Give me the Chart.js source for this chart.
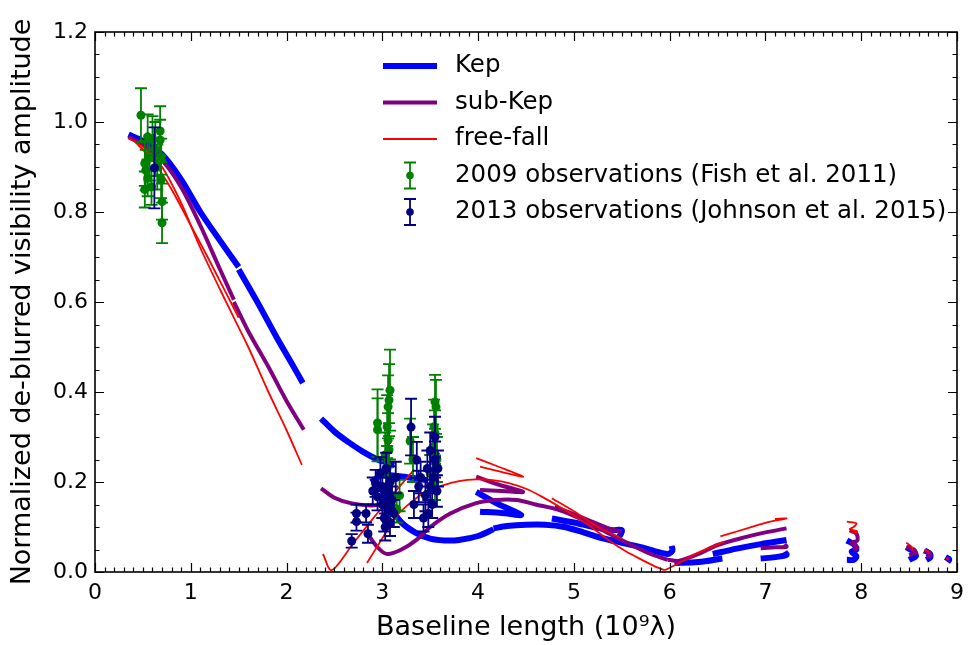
<!DOCTYPE html>
<html>
<head>
<meta charset="utf-8">
<script src="https://cdn.jsdelivr.net/npm/chart.js@4.4.1/dist/chart.umd.min.js"></script>
<style>
  html, body { margin: 0; padding: 0; background: #fff; }
  #wrap { width: 972px; height: 645px; }
</style>
</head>
<body>
<div id="wrap"><canvas id="grafico" width="972" height="645"></canvas></div>
<script>
// Eixos
const xTicks = [0, 1, 2, 3, 4, 5, 6, 7, 8, 9];
const yTicks = ['0.0', '0.2', '0.4', '0.6', '0.8', '1.0', '1.2'];

// Modelo Kepleriano (azul) - segmentos
const kepA = [[0.35,0.972],[0.5,0.958],[0.7,0.928],[0.9,0.872],[1.1,0.8],[1.3,0.738],[1.5,0.678]];
const kepB = [[1.5,0.672],[1.7,0.598],[1.9,0.52],[2.05,0.465],[2.17,0.42]];
const kepC = [[2.36,0.341],[2.5,0.312],[2.65,0.288],[2.8,0.267],[2.95,0.25],[3.05,0.243],[3.12,0.236]];
const kepD = [[2.88,0.2],[3.0,0.215],[3.2,0.212],[3.47,0.204]];
const kepE = [[3.0,0.18],[3.1,0.14],[3.2,0.11],[3.35,0.087],[3.5,0.074],[3.65,0.07],[3.8,0.071],[4.0,0.08],[4.16,0.095]];
const kepF = [[4.16,0.097],[4.3,0.102],[4.5,0.105],[4.7,0.105],[4.9,0.1],[5.1,0.088],[5.3,0.075],[5.5,0.065],[5.7,0.055],[5.85,0.046],[5.98,0.04],[6.03,0.048],[6.02,0.058]];
const kepH = [[3.98,0.178],[4.2,0.152],[4.45,0.127],[4.25,0.131],[4.02,0.134]];
const kepI = [[4.77,0.119],[5.0,0.11],[5.2,0.1],[5.4,0.093],[5.5,0.093],[5.47,0.078],[5.38,0.068]];
const kepJ = [[6.05,0.02],[6.3,0.022],[6.55,0.03]];
const kepK = [[6.45,0.04],[6.7,0.052],[6.95,0.062],[7.22,0.071]];
const kepL = [[6.95,0.03],[7.1,0.033],[7.22,0.038],[7.2,0.045]];
const kepM = [[7.85,0.07],[7.92,0.062],[7.95,0.05],[7.9,0.045],[7.95,0.035],[7.92,0.027],[7.85,0.027]];
const kepN = [[8.47,0.055],[8.55,0.045],[8.57,0.035],[8.5,0.027]];
const kepO = [[8.66,0.048],[8.72,0.04],[8.72,0.032],[8.68,0.027]];
const kepP = [[8.88,0.033],[8.92,0.028],[8.9,0.022]];

// Modelo sub-Kepleriano (roxo)
const subA = [[0.35,0.966],[0.5,0.95],[0.7,0.915],[0.9,0.855],[1.1,0.77],[1.3,0.675],[1.45,0.605]];
const subB = [[1.45,0.6],[1.6,0.535],[1.81,0.456],[2.0,0.38],[2.18,0.316]];
const subC = [[2.36,0.186],[2.5,0.165],[2.67,0.153],[2.88,0.148],[3.0,0.15]];
const subD = [[2.83,0.09],[2.95,0.055],[3.05,0.04],[3.2,0.05],[3.36,0.072],[3.5,0.1],[3.71,0.13],[3.98,0.153],[4.19,0.16],[4.4,0.16],[4.6,0.15],[4.84,0.138],[5.1,0.115],[5.36,0.086],[5.6,0.06],[5.8,0.04],[5.98,0.027]];
const subE = [[5.98,0.027],[6.1,0.025],[6.3,0.04],[6.5,0.06],[6.8,0.078],[7.0,0.088],[7.22,0.097]];
const subF = [[6.95,0.053],[7.1,0.055],[7.22,0.056],[7.2,0.062]];
const subG = [[3.98,0.212],[4.2,0.195],[4.47,0.178],[4.25,0.18],[4.02,0.182]];
const subH = [[4.8,0.145],[5.1,0.12],[5.4,0.094],[5.5,0.09]];
const subI = [[7.88,0.093],[7.95,0.085],[7.96,0.07],[7.9,0.065],[7.96,0.055],[7.92,0.049]];
const subJ = [[8.47,0.056],[8.55,0.05],[8.57,0.042],[8.5,0.038]];
const subK = [[8.66,0.047],[8.72,0.042],[8.72,0.036],[8.68,0.033]];
const subL = [[8.89,0.031],[8.92,0.028]];

// Modelo queda livre (vermelho)
const ffA = [[0.35,0.965],[0.5,0.945],[0.7,0.9],[0.9,0.82],[1.1,0.72],[1.36,0.604],[1.6,0.5],[1.8,0.405],[2.0,0.315],[2.16,0.238]];
const ffB = [[0.4,0.96],[0.6,0.915],[0.8,0.85],[1.0,0.77],[1.2,0.69],[1.5,0.565]];
const ffC = [[2.38,0.04],[2.47,0.004],[2.7,0.065],[2.9,0.118],[3.1,0.17],[3.33,0.227]];
const ffD = [[2.84,0.02],[3.0,0.075],[3.15,0.125],[3.29,0.153],[3.45,0.178],[3.64,0.193],[3.8,0.202],[3.98,0.206],[4.15,0.204],[4.33,0.197],[4.5,0.185],[4.67,0.167],[4.85,0.145],[5.02,0.123],[5.2,0.097],[5.36,0.071],[5.55,0.045],[5.71,0.027],[5.85,0.012],[5.95,0.004]];
const ffE = [[3.98,0.253],[4.2,0.235],[4.47,0.212],[4.25,0.222],[4.02,0.234]];
const ffF = [[4.77,0.164],[5.0,0.135],[5.25,0.1],[5.5,0.075]];
const ffG = [[5.95,0.004],[6.1,0.02],[6.3,0.043],[6.57,0.067]];
const ffH = [[6.53,0.079],[6.7,0.09],[6.9,0.103],[7.05,0.112],[7.22,0.119],[7.1,0.118]];
const ffI = [[7.85,0.112],[7.95,0.108],[7.92,0.1],[7.88,0.095],[7.96,0.09],[7.9,0.086]];
const ffJ = [[8.47,0.065],[8.53,0.055],[8.53,0.047]];
const ffK = [[8.66,0.05],[8.7,0.045],[8.7,0.04]];
const ffL = [[8.89,0.032],[8.91,0.027]];

// Observações 2009 (Fish et al. 2011)
const obs2009X = [0.48,0.55,0.60,0.68,0.68,0.69,0.52,0.53,0.55,0.52,0.59,0.69,0.70,0.70,0.57,0.63,0.65,
  2.95,2.95,3.08,3.07,3.06,3.05,3.06,3.07,3.05,3.08,3.1,3.03,3.29,3.32,3.55,3.56,3.54,3.55,3.53,3.57,3.5,3.55,3.15,3.18];
const obs2009Y = [1.015,0.967,0.963,0.98,0.96,0.923,0.908,0.893,0.875,0.85,0.856,0.871,0.823,0.776,0.92,0.94,0.9,
  0.331,0.316,0.404,0.382,0.367,0.323,0.293,0.271,0.23,0.2,0.17,0.26,0.291,0.25,0.378,0.367,0.323,0.309,0.278,0.25,0.22,0.2,0.14,0.17];
const obs2009Err = [0.06,0.05,0.05,0.055,0.045,0.04,0.05,0.045,0.04,0.04,0.04,0.04,0.04,0.045,0.05,0.06,0.05,
  0.075,0.07,0.09,0.08,0.07,0.07,0.06,0.06,0.05,0.05,0.04,0.05,0.05,0.05,0.06,0.06,0.06,0.05,0.05,0.05,0.04,0.04,0.03,0.035];

// Observações 2013 (Johnson et al. 2015)
const obs2013X = [0.62,2.68,2.73,2.73,2.83,2.85,2.9,2.93,2.95,2.98,3.0,3.0,3.02,3.03,3.04,3.05,3.06,3.08,3.08,3.1,3.12,3.14,
  3.3,3.33,3.36,3.38,3.4,3.43,3.45,3.47,3.48,3.5,3.5,3.52,3.53,3.55,3.55,3.57,3.58];
const obs2013Y = [0.898,0.069,0.13,0.112,0.13,0.085,0.18,0.197,0.167,0.22,0.15,0.19,0.12,0.1,0.23,0.18,0.14,0.2,0.11,0.16,0.13,0.21,
  0.322,0.15,0.249,0.19,0.21,0.12,0.17,0.23,0.13,0.27,0.19,0.15,0.21,0.3,0.25,0.18,0.23];
const obs2013Err = [0.09,0.015,0.02,0.02,0.02,0.02,0.03,0.03,0.03,0.035,0.03,0.03,0.03,0.03,0.035,0.03,0.03,0.035,0.03,0.03,0.03,0.035,
  0.063,0.03,0.04,0.035,0.035,0.03,0.035,0.04,0.03,0.04,0.035,0.03,0.035,0.045,0.04,0.035,0.04];

const FONTE = "'DejaVu Sans', sans-serif";
const AZUL = '#0000ff', ROXO = '#800080', VERMELHO = '#ff0000', VERDE = '#008000', MARINHO = '#000080';

function segmento(pontos, cor, espessura) {
  return {
    data: pontos.map(p => ({ x: p[0], y: p[1] })),
    showLine: true,
    borderColor: cor,
    borderWidth: espessura,
    borderCapStyle: 'butt',
    pointRadius: 0,
    pointHoverRadius: 0,
    tension: 0.3,
    fill: false
  };
}

function observacoes(xs, ys, erros, cor) {
  return {
    data: xs.map((x, i) => ({ x: x, y: ys[i] })),
    showLine: false,
    pointRadius: 4.5,
    pointBackgroundColor: cor,
    pointBorderColor: cor,
    pointBorderWidth: 0,
    erros: erros,
    corErro: cor
  };
}

// Chart.js desenha o primeiro dataset por cima
const datasets = [];
datasets.push(observacoes(obs2013X, obs2013Y, obs2013Err, MARINHO));
datasets.push(observacoes(obs2009X, obs2009Y, obs2009Err, VERDE));
[ffA, ffB, ffC, ffD, ffE, ffF, ffG, ffH, ffI, ffJ, ffK, ffL].forEach(s => datasets.push(segmento(s, VERMELHO, 1.8)));
[subA, subB, subC, subD, subE, subF, subG, subH, subI, subJ, subK, subL].forEach(s => datasets.push(segmento(s, ROXO, 4)));
[kepA, kepB, kepC, kepD, kepE, kepF, kepH, kepI, kepJ, kepK, kepL, kepM, kepN, kepO, kepP].forEach(s => datasets.push(segmento(s, AZUL, 6)));

// Barras de erro, desenhadas logo após cada conjunto de pontos
const barrasDeErro = {
  id: 'barrasDeErro',
  afterDatasetDraw(chart, args) {
    const ds = chart.data.datasets[args.index];
    if (!ds.erros) return;
    const ctx = chart.ctx;
    const xs = chart.scales.x, ys = chart.scales.y;
    ctx.save();
    ctx.strokeStyle = ds.corErro;
    ctx.lineWidth = 1.8;
    ds.data.forEach((p, i) => {
      const px = xs.getPixelForValue(p.x);
      const y1 = ys.getPixelForValue(p.y + ds.erros[i]);
      const y2 = ys.getPixelForValue(p.y - ds.erros[i]);
      ctx.beginPath();
      ctx.moveTo(px, y1); ctx.lineTo(px, y2);
      ctx.moveTo(px - 6, y1); ctx.lineTo(px + 6, y1);
      ctx.moveTo(px - 6, y2); ctx.lineTo(px + 6, y2);
      ctx.stroke();
    });
    ctx.restore();
  }
};

// Moldura com marcas para dentro, estilo matplotlib
const moldura = {
  id: 'moldura',
  afterDraw(chart) {
    const ctx = chart.ctx;
    const { left, right, top, bottom } = chart.chartArea;
    const xs = chart.scales.x, ys = chart.scales.y;
    ctx.save();
    ctx.strokeStyle = '#000';
    ctx.lineWidth = 1.2;
    ctx.beginPath();
    for (let v = 0; v <= 90; v++) {
      const px = Math.round(xs.getPixelForValue(v / 10)) + 0.5;
      const len = v % 10 === 0 ? 9 : 4.5;
      ctx.moveTo(px, bottom); ctx.lineTo(px, bottom - len);
      ctx.moveTo(px, top); ctx.lineTo(px, top + len);
    }
    for (let v = 0; v <= 24; v++) {
      const py = Math.round(ys.getPixelForValue(v * 0.05)) + 0.5;
      const len = v % 4 === 0 ? 9 : 4.5;
      ctx.moveTo(left, py); ctx.lineTo(left + len, py);
      ctx.moveTo(right, py); ctx.lineTo(right - len, py);
    }
    ctx.stroke();
    ctx.lineWidth = 1.6;
    ctx.strokeRect(left, top, right - left, bottom - top);
    ctx.restore();
  }
};

// Legenda desenhada dentro do gráfico
const legendaItens = [
  { texto: 'Kep', tipo: 'linha', cor: AZUL, espessura: 6 },
  { texto: 'sub-Kep', tipo: 'linha', cor: ROXO, espessura: 4 },
  { texto: 'free-fall', tipo: 'linha', cor: VERMELHO, espessura: 1.8 },
  { texto: '2009 observations (Fish et al. 2011)', tipo: 'erro', cor: VERDE },
  { texto: '2013 observations (Johnson et al. 2015)', tipo: 'erro', cor: MARINHO }
];
const legenda = {
  id: 'legenda',
  afterDraw(chart) {
    const ctx = chart.ctx;
    ctx.save();
    ctx.font = '24.5px ' + FONTE;
    ctx.textBaseline = 'middle';
    ctx.fillStyle = '#000';
    legendaItens.forEach((item, i) => {
      const y = 66 + i * 36.5;
      if (item.tipo === 'linha') {
        ctx.strokeStyle = item.cor;
        ctx.lineWidth = item.espessura;
        ctx.beginPath();
        ctx.moveTo(383, y); ctx.lineTo(437, y);
        ctx.stroke();
      } else {
        ctx.strokeStyle = item.cor;
        ctx.fillStyle = item.cor;
        ctx.lineWidth = 1.8;
        ctx.beginPath();
        ctx.moveTo(410, y - 13); ctx.lineTo(410, y + 13);
        ctx.moveTo(404, y - 13); ctx.lineTo(416, y - 13);
        ctx.moveTo(404, y + 13); ctx.lineTo(416, y + 13);
        ctx.stroke();
        ctx.beginPath();
        ctx.arc(410, y, 3.8, 0, Math.PI * 2);
        ctx.fill();
        ctx.fillStyle = '#000';
      }
      ctx.fillText(item.texto, 455, y);
    });
    ctx.restore();
  }
};

document.addEventListener('DOMContentLoaded', () => {
  const ctx = document.getElementById('grafico').getContext('2d');
  new Chart(ctx, {
    type: 'scatter',
    data: { datasets: datasets },
    options: {
      responsive: false,
      animation: false,
      devicePixelRatio: 1,
      layout: { padding: { top: 32, right: 7, left: 0, bottom: 0 } },
      plugins: { legend: { display: false }, tooltip: { enabled: false } },
      scales: {
        x: {
          type: 'linear', min: 0, max: 9,
          grid: { display: false, drawTicks: false },
          border: { display: false },
          ticks: {
            stepSize: 1, padding: 8, color: '#000',
            font: { family: FONTE, size: 22 },
            callback: (v) => xTicks.includes(v) ? String(v) : ''
          },
          title: {
            display: true, text: 'Baseline length (10⁹λ)', color: '#000',
            font: { family: FONTE, size: 27 }, padding: { top: 0, bottom: 1 }
          },
          afterFit(scale) { scale.height = 73; }
        },
        y: {
          type: 'linear', min: 0, max: 1.2,
          grid: { display: false, drawTicks: false },
          border: { display: false },
          ticks: {
            stepSize: 0.2, padding: 7, color: '#000',
            font: { family: FONTE, size: 22 },
            callback: (v, i) => yTicks[i]
          },
          title: {
            display: true, text: 'Normalized de-blurred visibility amplitude', color: '#000',
            font: { family: FONTE, size: 27 }, padding: { top: 7, bottom: 0 }
          },
          afterFit(scale) { scale.width = 95; }
        }
      }
    },
    plugins: [barrasDeErro, moldura, legenda]
  });
});
</script>
</body>
</html>
